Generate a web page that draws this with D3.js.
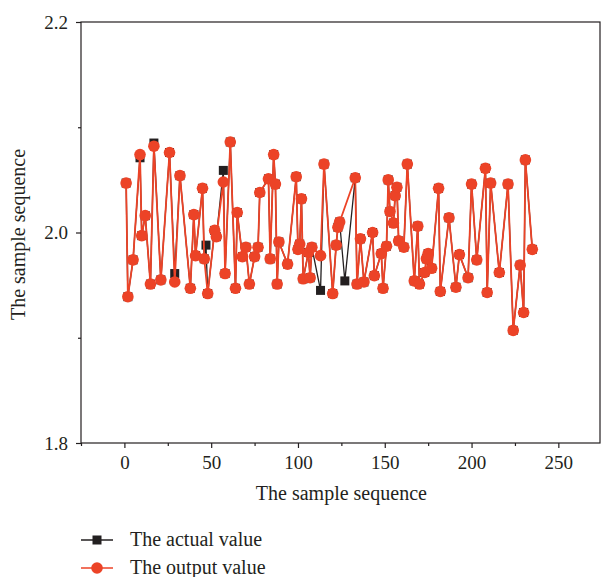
<!DOCTYPE html>
<html>
<head>
<meta charset="utf-8">
<script src="https://cdn.jsdelivr.net/npm/d3@7"></script>
<style>
  body { margin: 0; background: #fff; }
  svg { display: block; }
  text { font-family: "Liberation Serif", "DejaVu Serif", serif; fill: #231f20; }
</style>
</head>
<body>
<div class="container"></div>
<script>
// sample index (x) and the two series
const samples = [1, 2, 5, 9, 10, 12, 15, 17, 21, 26, 29, 32, 38, 40, 41, 45, 46, 47, 48, 52,
    53, 57, 58, 61, 64, 65, 68, 70, 72, 75, 77, 78, 83, 84, 86, 87, 88, 89, 94, 99,
    100, 101, 102, 103, 106, 107, 108, 113, 115, 120, 122, 123, 124, 127, 133, 134, 136, 138, 143, 144,
    148, 149, 151, 152, 153, 155, 156, 157, 158, 161, 163, 167, 169, 170, 173, 174, 175, 177, 181, 182,
    187, 191, 193, 198, 200, 203, 208, 209, 211, 216, 221, 224, 228, 230, 231, 235]

const actual = [2.047, 1.939, 1.974, 2.071, 1.997, 2.016, 1.951, 2.085, 1.955, 2.076, 1.961, 2.054, 1.947, 2.017, 1.978, 2.042, 1.975, 1.988, 1.942, 2.002,
    1.996, 2.059, 1.961, 2.086, 1.947, 2.019, 1.977, 1.986, 1.951, 1.977, 1.986, 2.038, 2.051, 1.975, 2.074, 2.046, 1.951, 1.991, 1.970, 2.053,
    1.984, 1.989, 2.032, 1.956, 1.981, 1.957, 1.986, 1.945, 2.065, 1.942, 1.988, 2.005, 2.010, 1.954, 2.052, 1.951, 1.994, 1.953, 2.000, 1.959,
    1.980, 1.947, 1.987, 2.050, 2.020, 2.009, 2.035, 2.043, 1.992, 1.986, 2.065, 1.954, 2.006, 1.951, 1.962, 1.975, 1.980, 1.966, 2.042, 1.944,
    2.014, 1.948, 1.979, 1.957, 2.046, 1.974, 2.061, 1.943, 2.047, 1.962, 2.046, 1.907, 1.969, 1.924, 2.069, 1.984]

// null = no output marker visible at that sample
const output = [2.047, 1.939, 1.974, 2.074, 1.997, 2.016, 1.951, 2.082, 1.955, 2.076, 1.953, 2.054, 1.947, 2.017, 1.978, 2.042, 1.975, null, 1.942, 2.002,
    1.996, 2.048, 1.961, 2.086, 1.947, 2.019, 1.977, 1.986, 1.951, 1.977, 1.986, 2.038, 2.051, 1.975, 2.074, 2.046, 1.951, 1.991, 1.970, 2.053,
    1.984, 1.989, 2.032, 1.956, 1.981, 1.957, 1.986, 1.978, 2.065, 1.942, 1.988, 2.005, 2.010, null, 2.052, 1.951, 1.994, 1.953, 2.000, 1.959,
    1.980, 1.947, 1.987, 2.050, 2.020, 2.009, 2.035, 2.043, 1.992, 1.986, 2.065, 1.954, 2.006, 1.951, 1.962, 1.975, 1.980, 1.966, 2.042, 1.944,
    2.014, 1.948, 1.979, 1.957, 2.046, 1.974, 2.061, 1.943, 2.047, 1.962, 2.046, 1.907, 1.969, 1.924, 2.069, 1.984]

const xTicks = [0, 50, 100, 150, 200, 250]
const xMinor = [-25, 25, 75, 125, 175, 225]
const yTicks = [1.8, 2.0, 2.2]
const yMinor = [1.9, 2.1]
const seriesNames = ["The actual value", "The output value"]

const red = "#ec4327"
const dark = "#231f20"
const serif = "'Liberation Serif', 'DejaVu Serif', serif"

let width = 602
let height = 577
let plot = {left: 81, right: 600, top: 22, bottom: 443}

const svg = d3.select(".container")
    .append("svg")
    .attr("width", width)
    .attr("height", height)

const xScale = d3.scaleLinear()
    .domain([-25, 274])
    .range([plot.left, plot.right])

const yScale = d3.scaleLinear()
    .domain([1.8, 2.2])
    .range([plot.bottom, plot.top])

// Axes
const xAxis = d3.axisBottom(xScale)
    .tickValues(xTicks)
    .tickSize(5)
    .tickPadding(8)

const xAxisMinor = d3.axisBottom(xScale)
    .tickValues(xMinor)
    .tickSize(3)
    .tickFormat("")

const yAxis = d3.axisLeft(yScale)
    .tickValues(yTicks)
    .tickSize(5)
    .tickPadding(8)
    .tickFormat(d3.format(".1f"))

const yAxisMinor = d3.axisLeft(yScale)
    .tickValues(yMinor)
    .tickSize(3)
    .tickFormat("")

function styleAxis(g) {
    g.attr("font-family", null)
    g.select(".domain").remove()
    g.selectAll(".tick line").attr("stroke", dark).attr("stroke-width", 1.2)
    g.selectAll(".tick text")
        .attr("font-size", 19)
        .style("font-family", serif)
        .attr("fill", dark)
}

svg.append("g")
    .attr("transform", `translate(0, ${plot.bottom})`)
    .call(xAxis)
    .call(styleAxis)

svg.append("g")
    .attr("transform", `translate(0, ${plot.bottom})`)
    .call(xAxisMinor)
    .call(styleAxis)

svg.append("g")
    .attr("transform", `translate(${plot.left}, 0)`)
    .call(yAxis)
    .call(styleAxis)

svg.append("g")
    .attr("transform", `translate(${plot.left}, 0)`)
    .call(yAxisMinor)
    .call(styleAxis)

// Frame
svg.append("rect")
    .attr("x", plot.left)
    .attr("y", plot.top)
    .attr("width", plot.right - plot.left)
    .attr("height", plot.bottom - plot.top)
    .attr("fill", "none")
    .attr("stroke", dark)
    .attr("stroke-width", 1.2)

// Axis titles
svg.append("text")
    .text("The sample sequence")
    .attr("x", xScale(125))
    .attr("y", 500)
    .attr("text-anchor", "middle")
    .attr("font-size", 20)

svg.append("text")
    .text("The sample sequence")
    .attr("transform", `translate(25, ${(plot.top + plot.bottom) / 2 + 2}) rotate(-90)`)
    .attr("text-anchor", "middle")
    .attr("font-size", 20)

// Series
const actualData = samples.map((s, i) => ({x: s, y: actual[i]}))
const outputData = samples.map((s, i) => ({x: s, y: output[i]})).filter(d => d.y != null)

const line = d3.line()
    .x(d => xScale(d.x))
    .y(d => yScale(d.y))

svg.append("path")
    .datum(actualData)
    .attr("fill", "none")
    .attr("stroke", dark)
    .attr("stroke-width", 1.3)
    .attr("d", line)

svg.selectAll(".square")
    .data(actualData)
    .enter()
    .append("rect")
    .attr("class", "square")
    .attr("x", d => xScale(d.x) - 4.5)
    .attr("y", d => yScale(d.y) - 4.5)
    .attr("width", 9)
    .attr("height", 9)
    .attr("fill", dark)

svg.append("path")
    .datum(outputData)
    .attr("fill", "none")
    .attr("stroke", red)
    .attr("stroke-width", 1.8)
    .attr("d", line)

svg.selectAll(".dot")
    .data(outputData)
    .enter()
    .append("circle")
    .attr("class", "dot")
    .attr("cx", d => xScale(d.x))
    .attr("cy", d => yScale(d.y))
    .attr("r", 5.8)
    .attr("fill", red)

// Legend
const legend = svg.append("g")
    .attr("transform", "translate(81, 540)")

seriesNames.forEach((name, i) => {
    const g = legend.append("g").attr("transform", `translate(0, ${i * 28})`)
    const c = i === 0 ? dark : red
    g.append("line")
        .attr("x1", 0).attr("x2", 32)
        .attr("stroke", c)
        .attr("stroke-width", 1.5)
    if (i === 0) {
        g.append("rect")
            .attr("x", 11.5).attr("y", -4.5)
            .attr("width", 9).attr("height", 9)
            .attr("fill", c)
    } else {
        g.append("circle")
            .attr("cx", 16).attr("r", 5.8)
            .attr("fill", c)
    }
    g.append("text")
        .text(name)
        .attr("x", 49)
        .attr("dy", "0.32em")
        .attr("font-size", 20)
})
</script>
</body>
</html>
